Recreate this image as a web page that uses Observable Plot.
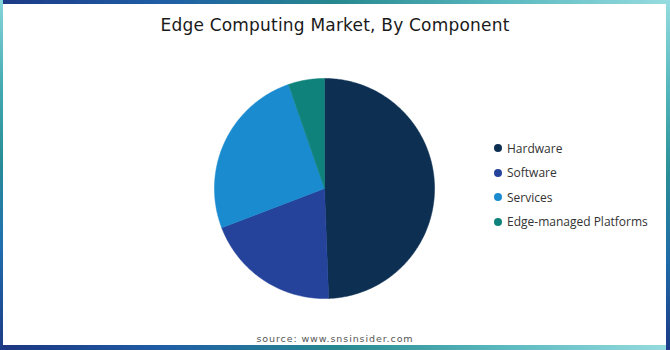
<!DOCTYPE html>
<html>
<head>
<meta charset="utf-8">
<script src="https://cdn.jsdelivr.net/npm/d3@7"></script>
<script src="https://cdn.jsdelivr.net/npm/@observablehq/plot@0.6"></script>
<style>
  html, body { margin: 0; padding: 0; background: #fff; }
  #frame { position: relative; width: 670px; height: 350px; background: #fff; overflow: hidden; }
  .edge { position: absolute; }
  #top { left: 0; top: 0; width: 670px; height: 4px;
    background: linear-gradient(90deg, #1d3a86 0%, #1f5fa6 25%, #27888f 50%, #5ab9bf 75%, #96dce0 100%); }
  #bottom { left: 0; bottom: 0; width: 670px; height: 5px;
    background: linear-gradient(90deg, #1c3582 0%, #1f5fa6 25%, #27888f 50%, #5ab9bf 75%, #96dce0 100%); }
  #left { left: 0; top: 0; width: 3px; height: 350px;
    background: linear-gradient(180deg, #86d6da 0%, #44a9b0 25%, #2a8e96 45%, #1f6fb0 70%, #1c3a86 100%); }
  #right { right: 0; top: 0; width: 4px; height: 350px;
    background: linear-gradient(180deg, #96dce0 0%, #55b8be 25%, #2a8e96 50%, #1f6aa8 75%, #1c3a86 100%); }
  #title {
    position: absolute; left: 0; width: 670px; top: 15px; text-align: center;
    font-family: "DejaVu Sans", sans-serif; font-size: 17px; color: #1a1a1a; letter-spacing: 0.2px;
  }
  #pie { position: absolute; left: 209px; top: 73px; }
  #legend { position: absolute; left: 494px; top: 136px; font-family: "Open Sans", sans-serif; font-size: 12px; color: #333; }
  .item { display: flex; align-items: center; height: 24.5px; }
  .dot { width: 8px; height: 8px; border-radius: 50%; margin-right: 5px; }
  #source {
    position: absolute; left: 0; width: 670px; top: 333px; text-align: center;
    font-family: "DejaVu Sans", sans-serif; font-size: 9.5px; color: #555; letter-spacing: 0.9px;
  }
</style>
</head>
<body>
<div id="frame">
  <div class="edge" id="top"></div>
  <div class="edge" id="bottom"></div>
  <div class="edge" id="left"></div>
  <div class="edge" id="right"></div>
  <div id="title">Edge Computing Market, By Component</div>
  <div id="pie"></div>
  <div id="legend"></div>
  <div id="source">source: www.snsinsider.com</div>
</div>
<script>
const categories = ["Hardware", "Software", "Services", "Edge-managed Platforms"];
const shares = [49.4, 19.8, 25.5, 5.3];
const colors = ["#0c2f52", "#25439b", "#1b8bcf", "#0f827b"];

const table = categories.map((c, i) => ({category: c, value: shares[i]}));
const arcs = d3.pie().sort(null).value(d => d.value)(table);
const pts = [];
arcs.forEach(a => {
  const c = a.data.category;
  pts.push({category: c, x: 0, y: 0});
  const n = Math.max(2, Math.ceil((a.endAngle - a.startAngle) / 0.01));
  for (let k = 0; k <= n; k++) {
    const t = a.startAngle + (a.endAngle - a.startAngle) * k / n;
    pts.push({category: c, x: Math.sin(t), y: Math.cos(t)});
  }
  pts.push({category: c, x: 0, y: 0});
});

const size = 230;
const chart = Plot.plot({
  width: size, height: size, margin: 0,
  x: {domain: [-1.045, 1.045], axis: null},
  y: {domain: [-1.045, 1.045], axis: null},
  color: {domain: categories, range: colors},
  marks: [
    Plot.line(pts, {x: "x", y: "y", z: "category", fill: "category", stroke: "category", strokeWidth: 0.5, curve: "linear"})
  ]
});
document.getElementById("pie").appendChild(chart);

const legend = document.getElementById("legend");
categories.forEach((c, i) => {
  const it = document.createElement("div");
  it.className = "item";
  it.innerHTML = `<span class="dot" style="background:${colors[i]}"></span><span>${c}</span>`;
  legend.appendChild(it);
});
</script>
</body>
</html>
